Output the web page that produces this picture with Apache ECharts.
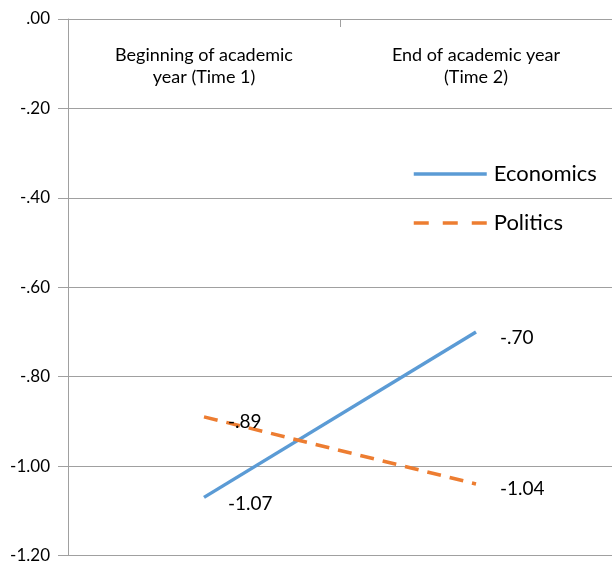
<!DOCTYPE html>
<html>
<head>
<meta charset="utf-8">
<script src="https://cdn.jsdelivr.net/npm/echarts@6/dist/echarts.min.js"></script>
<style>html,body{margin:0;padding:0;background:#fff}#c{width:612px;height:564px}</style>
</head>
<body>
<div id="c"></div>
<script>
var categories = ['Beginning of academic\nyear (Time 1)', 'End of academic year\n(Time 2)'];
var economics = [-1.07, -0.70];
var politics = [-0.89, -1.04];
var seriesNames = ['Economics', 'Politics'];

function fmt(v) {
  var s = Math.abs(v).toFixed(2);
  if (s.charAt(0) === '0') s = s.substring(1);
  return (v < -1e-9 ? '-' : '') + s;
}

var FONT = 'Lato';
var chart = echarts.init(document.getElementById('c'));
chart.setOption({
  animation: false,
  backgroundColor: '#fff',
  grid: { left: 68, top: 19, right: -2, bottom: 7, containLabel: false },
  legend: {
    orient: 'vertical',
    left: 412,
    top: 163,
    padding: 0,
    itemWidth: 73,
    itemHeight: 14,
    itemGap: 27,
    itemStyle: { opacity: 0 },
    lineStyle: { width: 3.5 },
    textStyle: { fontFamily: FONT, fontSize: 22, color: '#000', padding: [0, 0, 0, 2] },
    data: [
      { name: seriesNames[0] },
      { name: seriesNames[1], lineStyle: { width: 3.5, type: [15, 14] } }
    ]
  },
  xAxis: {
    type: 'category',
    position: 'top',
    data: categories,
    boundaryGap: true,
    axisLine: { lineStyle: { color: '#a0a0a0', width: 1 } },
    axisTick: { show: true, inside: true, length: 8, alignWithLabel: false, lineStyle: { color: '#a0a0a0' } },
    axisLabel: { inside: true, margin: 25, interval: 0, fontFamily: FONT, fontSize: 18, color: '#000', lineHeight: 22, verticalAlign: 'top' },
    splitLine: { show: false }
  },
  yAxis: {
    type: 'value',
    min: -1.2,
    max: 0,
    interval: 0.2,
    axisLine: { show: true, lineStyle: { color: '#a0a0a0', width: 1 } },
    axisTick: { show: true, length: 10, lineStyle: { color: '#a0a0a0' } },
    axisLabel: { margin: 18, fontFamily: FONT, fontSize: 17, color: '#000', formatter: fmt },
    splitLine: { show: true, lineStyle: { color: '#a0a0a0', width: 1 } }
  },
  series: [
    {
      name: seriesNames[0],
      type: 'line',
      data: economics,
      symbol: 'circle',
      symbolSize: 0.01,
      showSymbol: true,
      lineStyle: { color: '#5B9BD5', width: 3.5 },
      itemStyle: { color: '#5B9BD5' },
      label: { show: true, position: 'right', distance: 24, offset: [0, 6], fontFamily: FONT, fontSize: 19, color: '#000', formatter: function (p) { return fmt(p.value); } }
    },
    {
      name: seriesNames[1],
      type: 'line',
      data: politics,
      symbol: 'circle',
      symbolSize: 0.01,
      showSymbol: true,
      lineStyle: { color: '#ED7D31', width: 3.5, type: [14, 9] },
      itemStyle: { color: '#ED7D31' },
      label: { show: true, position: 'right', distance: 24, offset: [0, 5], fontFamily: FONT, fontSize: 19, color: '#000', formatter: function (p) { return fmt(p.value); } }
    }
  ]
});
</script>
</body>
</html>
